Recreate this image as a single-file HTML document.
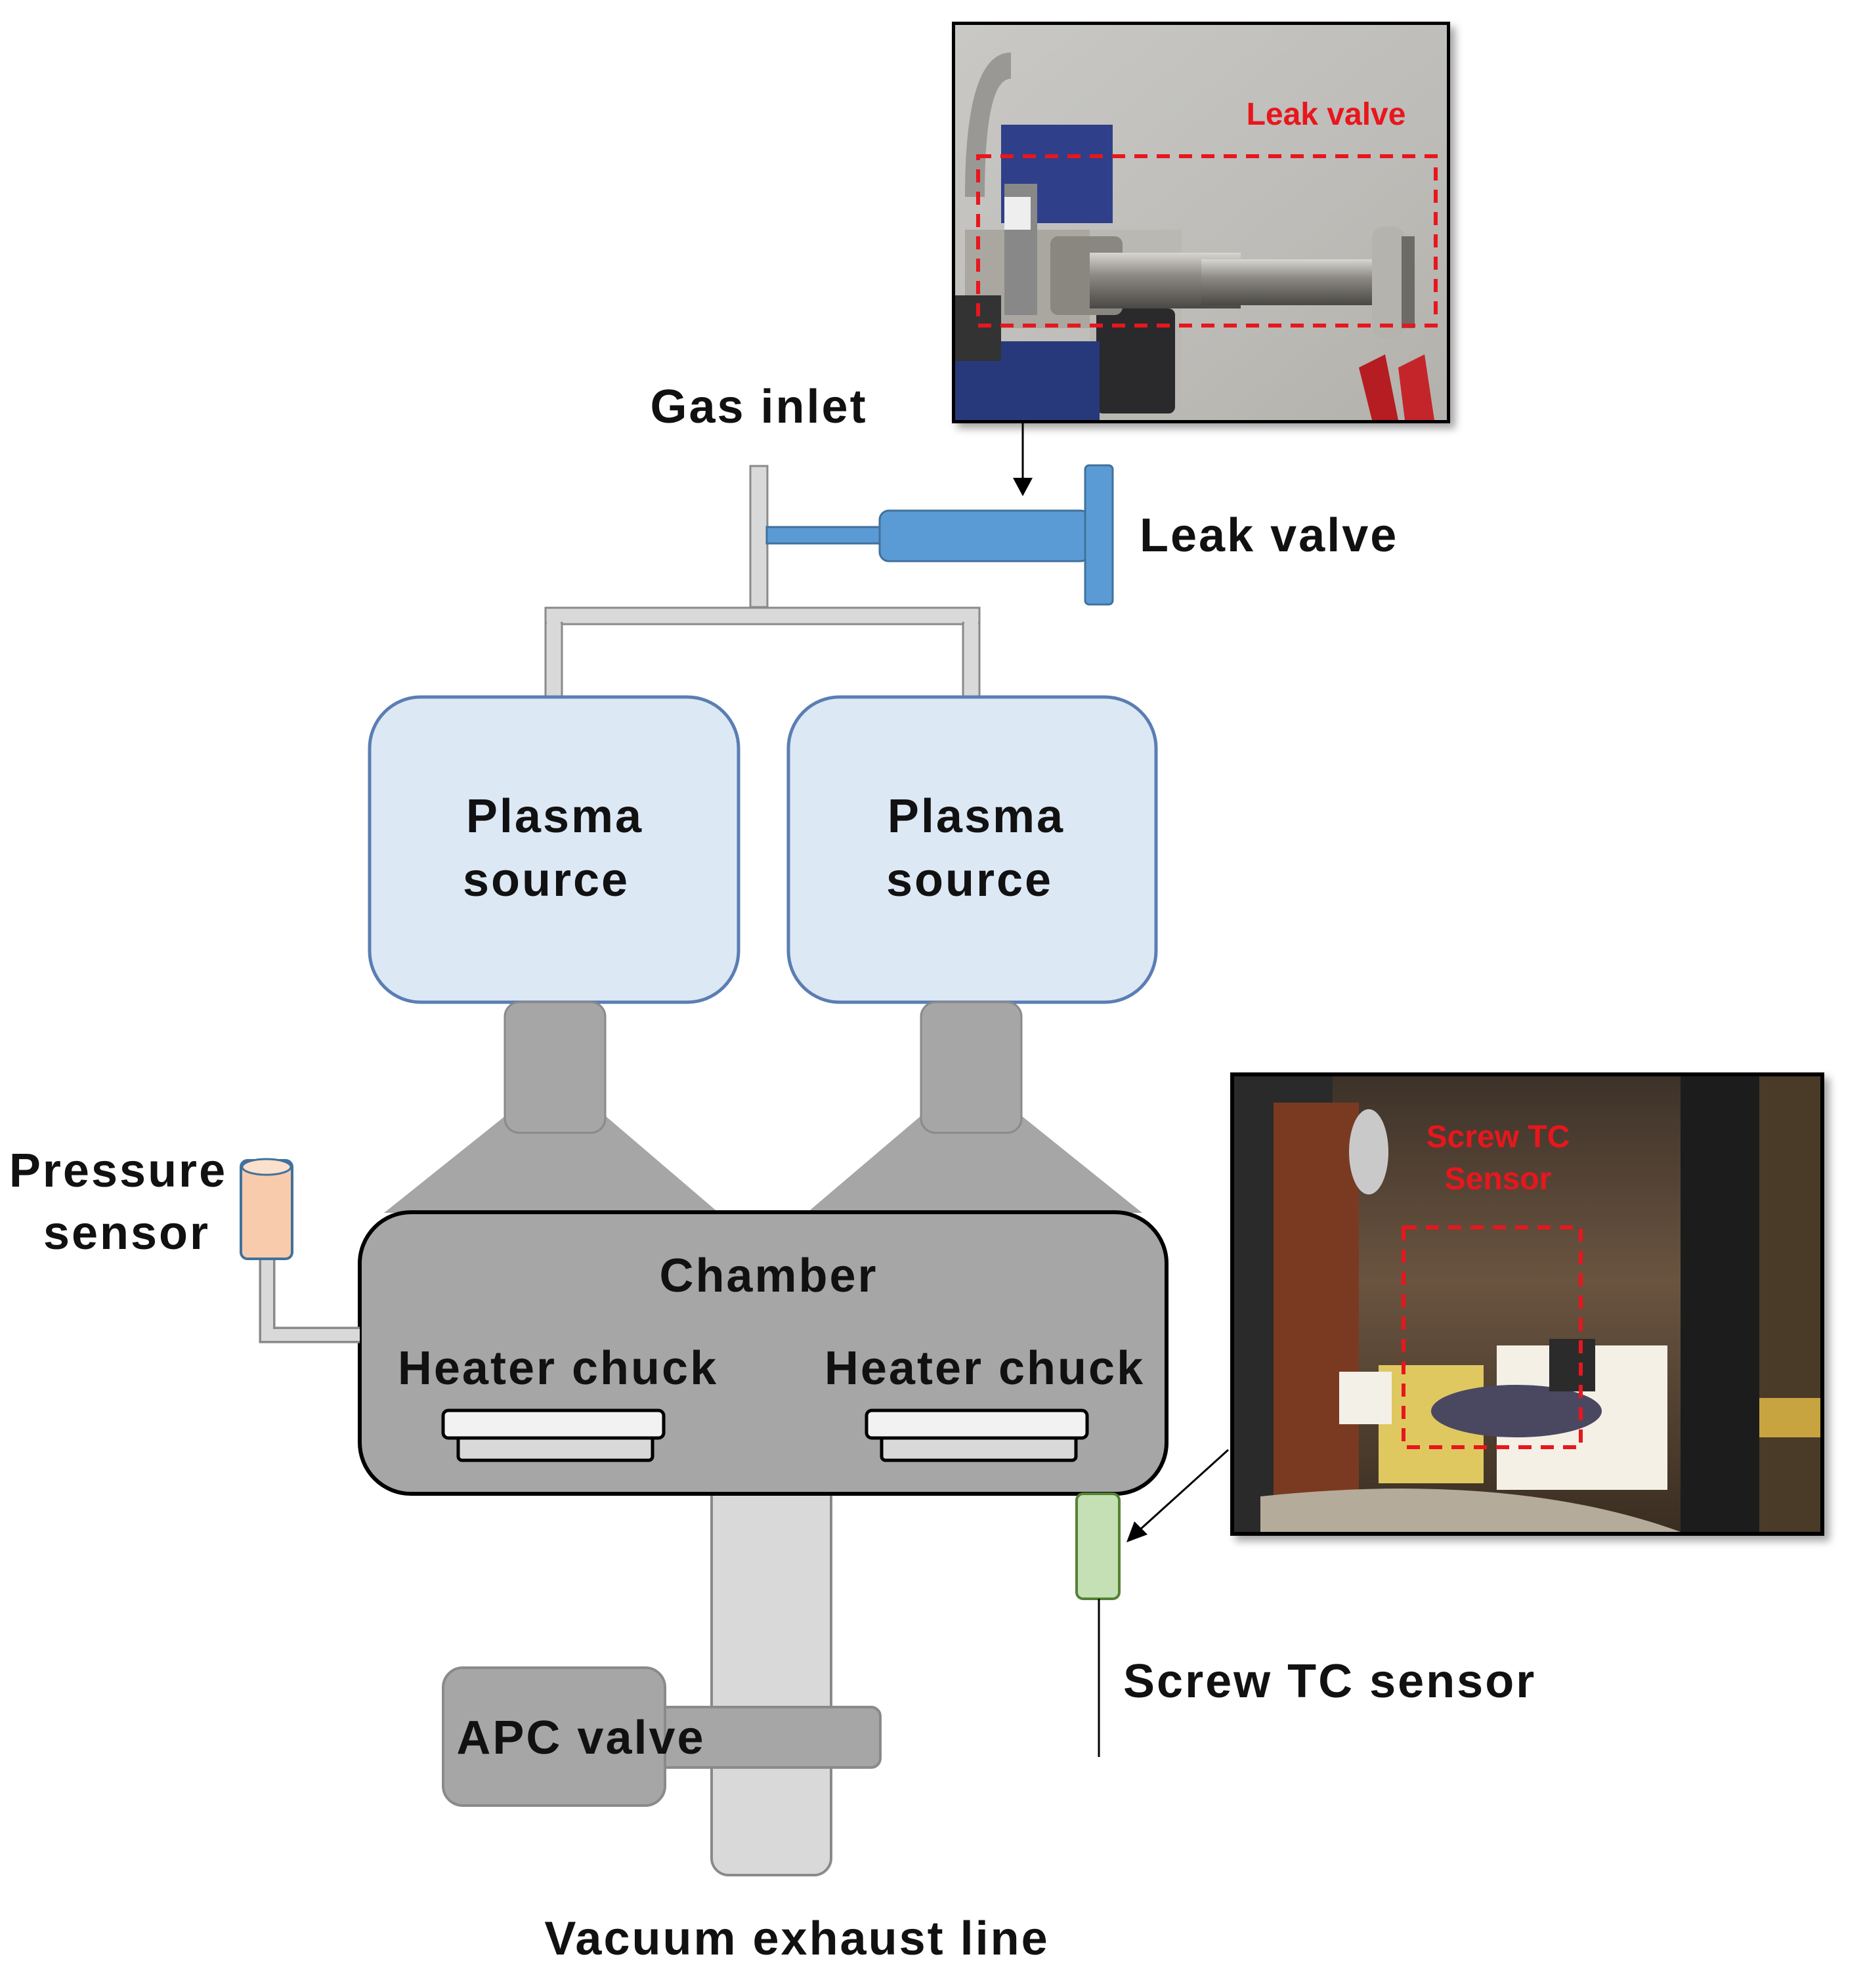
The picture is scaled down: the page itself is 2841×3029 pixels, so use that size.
<!DOCTYPE html>
<html><head><meta charset="utf-8"><style>html,body{margin:0;padding:0;background:#fff}svg{display:block}</style></head>
<body>
<svg width="2841" height="3029" viewBox="0 0 2841 3029" xmlns="http://www.w3.org/2000/svg" font-family="Liberation Sans, sans-serif" font-weight="bold">
<defs>
<linearGradient id="wall" x1="0" y1="0" x2="1" y2="1"><stop offset="0" stop-color="#c9c8c4"/><stop offset="0.6" stop-color="#bdbcb8"/><stop offset="1" stop-color="#b3b1ab"/></linearGradient>
<linearGradient id="metal" x1="0" y1="0" x2="0" y2="1"><stop offset="0" stop-color="#d8d6d0"/><stop offset="0.4" stop-color="#8d8a84"/><stop offset="1" stop-color="#4a4844"/></linearGradient>
<linearGradient id="ph2" x1="0" y1="0" x2="0" y2="1"><stop offset="0" stop-color="#3d3229"/><stop offset="0.45" stop-color="#6a5440"/><stop offset="1" stop-color="#3a2e22"/></linearGradient>
<filter id="sh"><feDropShadow dx="8" dy="8" stdDeviation="6" flood-color="#000" flood-opacity="0.35"/></filter>
</defs>

<!-- Photo 1 -->
<g filter="url(#sh)"><rect x="1450" y="33" width="759" height="612" fill="#000"/></g>
<rect x="1455" y="38" width="749" height="602" fill="url(#wall)"/>
<path d="M1470 300 Q1470 80 1540 80 L1540 120 Q1500 120 1500 300 Z" fill="#9a9894"/>
<rect x="1525" y="190" width="170" height="150" fill="#2f3f8a"/>
<rect x="1470" y="350" width="310" height="150" fill="#a9a7a0"/>
<rect x="1660" y="350" width="140" height="290" fill="#bab8b2"/>
<rect x="1670" y="470" width="120" height="160" rx="10" fill="#2a2a2c"/>
<rect x="1455" y="520" width="220" height="120" fill="#27397a"/>
<rect x="1455" y="450" width="70" height="100" fill="#333"/>
<rect x="1530" y="280" width="50" height="200" fill="#888"/>
<rect x="1530" y="300" width="40" height="50" fill="#eee"/>
<rect x="1600" y="360" width="110" height="120" rx="12" fill="#8a8780"/>
<rect x="1660" y="385" width="230" height="85" fill="url(#metal)"/>
<rect x="1830" y="395" width="270" height="70" fill="url(#metal)"/>
<rect x="2090" y="345" width="50" height="170" rx="18" fill="#b5b3ad"/>
<rect x="2135" y="360" width="20" height="140" fill="#6d6b66"/>
<path d="M2070 560 L2110 540 L2130 640 L2090 640 Z" fill="#b51d22"/>
<path d="M2130 560 L2170 540 L2185 640 L2140 640 Z" fill="#c4252a"/>
<rect x="1490" y="238" width="697" height="258" fill="none" stroke="#e8161d" stroke-width="6" stroke-dasharray="20 14"/>
<text x="2020" y="190" text-anchor="middle" font-size="48" fill="#e8161d">Leak valve</text>

<!-- arrow from photo1 -->
<line x1="1558" y1="645" x2="1558" y2="735" stroke="#000" stroke-width="3"/>
<polygon points="1543,728 1573,728 1558,756" fill="#000"/>

<g letter-spacing="3">
<!-- Gas inlet -->
<text x="1156" y="644" text-anchor="middle" font-size="72" fill="#111">Gas inlet</text>
</g>
<rect x="1143" y="710" width="26" height="215" fill="#d9d9d9" stroke="#8a8a8a" stroke-width="3"/>
<rect x="1168" y="803" width="178" height="25" fill="#5b9bd5" stroke="#41719c" stroke-width="3"/>
<rect x="1340" y="778" width="320" height="77" rx="14" fill="#5b9bd5" stroke="#41719c" stroke-width="3"/>
<rect x="1653" y="709" width="42" height="212" rx="6" fill="#5b9bd5" stroke="#41719c" stroke-width="3"/>
<text x="1736" y="840" font-size="72" fill="#111" letter-spacing="3">Leak valve</text>

<!-- manifold -->
<rect x="831" y="926" width="661" height="25" fill="#d9d9d9" stroke="#8a8a8a" stroke-width="3"/>
<rect x="831" y="949" width="25" height="122" fill="#d9d9d9" stroke="#8a8a8a" stroke-width="3"/>
<rect x="1467" y="949" width="25" height="122" fill="#d9d9d9" stroke="#8a8a8a" stroke-width="3"/>
<rect x="833" y="944" width="21" height="10" fill="#d9d9d9"/>
<rect x="1469" y="944" width="21" height="10" fill="#d9d9d9"/>

<!-- plasma sources -->
<rect x="563" y="1062" width="562" height="465" rx="78" fill="#dde8f5" stroke="#5a7eb3" stroke-width="5"/>
<rect x="1201" y="1062" width="560" height="465" rx="78" fill="#dde8f5" stroke="#5a7eb3" stroke-width="5"/>
<g letter-spacing="3" font-size="72" fill="#111" text-anchor="middle">
<text x="845" y="1268">Plasma</text>
<text x="832" y="1365">source</text>
<text x="1487" y="1268">Plasma</text>
<text x="1477" y="1365">source</text>
</g>

<!-- trapezoids -->
<polygon points="770,1700 922,1700 1095,1848 585,1848" fill="#a6a6a6"/>
<polygon points="1403,1700 1556,1700 1740,1848 1229,1848" fill="#a6a6a6"/>
<rect x="769" y="1527" width="153" height="199" rx="22" fill="#a6a6a6" stroke="#8a8a8a" stroke-width="3"/>
<rect x="1403" y="1527" width="153" height="199" rx="22" fill="#a6a6a6" stroke="#8a8a8a" stroke-width="3"/>

<!-- exhaust line -->
<rect x="1084" y="2240" width="182" height="617" rx="26" fill="#d9d9d9" stroke="#8a8a8a" stroke-width="4"/>

<!-- chamber -->
<rect x="548" y="1847" width="1229" height="429" rx="78" fill="#a6a6a6" stroke="#000" stroke-width="6"/>
<g letter-spacing="3" font-size="72" fill="#111" text-anchor="middle">
<text x="1171" y="1968">Chamber</text>
<text x="850" y="2109">Heater chuck</text>
<text x="1500" y="2109">Heater chuck</text>
</g>
<rect x="698" y="2188" width="296" height="37" rx="6" fill="#d9d9d9" stroke="#000" stroke-width="5"/>
<rect x="675" y="2149" width="336" height="42" rx="8" fill="#f2f2f2" stroke="#000" stroke-width="5"/>
<rect x="1343" y="2188" width="296" height="37" rx="6" fill="#d9d9d9" stroke="#000" stroke-width="5"/>
<rect x="1320" y="2149" width="336" height="42" rx="8" fill="#f2f2f2" stroke="#000" stroke-width="5"/>

<!-- pressure sensor -->
<path d="M407 1915 L407 2034 L548 2034" fill="none" stroke="#8a8a8a" stroke-width="25"/>
<path d="M407 1915 L407 2034 L548 2034" fill="none" stroke="#d9d9d9" stroke-width="18"/>
<rect x="367" y="1768" width="78" height="150" rx="10" fill="#f8cbad" stroke="#41719c" stroke-width="4"/>
<ellipse cx="406" cy="1778" rx="37" ry="12" fill="#fbe0cc" stroke="#41719c" stroke-width="3"/>
<g letter-spacing="3" font-size="72" fill="#111" text-anchor="middle">
<text x="180" y="1808">Pressure</text>
<text x="193" y="1903">sensor</text>
</g>

<!-- APC valve -->
<rect x="1000" y="2601" width="341" height="92" rx="14" fill="#a6a6a6" stroke="#8a8a8a" stroke-width="4"/>
<rect x="675" y="2541" width="338" height="210" rx="30" fill="#a6a6a6" stroke="#8a8a8a" stroke-width="4"/>
<g letter-spacing="3" font-size="72" fill="#111" text-anchor="middle">
<text x="885" y="2672">APC valve</text>
<text x="1214" y="2978">Vacuum exhaust line</text>
</g>

<!-- screw TC sensor -->
<rect x="1640" y="2276" width="65" height="160" rx="10" fill="#c5e0b4" stroke="#548235" stroke-width="4"/>
<line x1="1674" y1="2436" x2="1674" y2="2677" stroke="#000" stroke-width="3"/>
<text x="1711" y="2586" font-size="72" fill="#111" letter-spacing="3">Screw TC sensor</text>
<line x1="1871" y1="2209" x2="1735" y2="2332" stroke="#000" stroke-width="3"/>
<polygon points="1716,2350 1728,2318 1748,2338" fill="#000"/>

<!-- Photo 2 -->
<g filter="url(#sh)"><rect x="1874" y="1634" width="905" height="706" fill="#000"/></g>
<rect x="1880" y="1640" width="893" height="694" fill="url(#ph2)"/>
<rect x="1880" y="1640" width="150" height="694" fill="#2a2a2a"/>
<path d="M1940 1680 L2070 1680 L2070 2334 L1940 2334 Z" fill="#7a3a22"/>
<ellipse cx="2085" cy="1755" rx="30" ry="65" fill="#c9c9c9"/>
<rect x="2280" y="2050" width="260" height="220" fill="#f4f0e6"/>
<rect x="2100" y="2080" width="160" height="180" fill="#e0c860"/>
<rect x="2040" y="2090" width="80" height="80" fill="#f3f0e8"/>
<ellipse cx="2310" cy="2150" rx="130" ry="40" fill="#4a4860"/>
<rect x="2360" y="2040" width="70" height="80" fill="#2b2b2b"/>
<rect x="2560" y="1640" width="120" height="694" fill="#1c1c1c"/>
<rect x="2680" y="1640" width="93" height="694" fill="#4a3a28"/>
<rect x="2680" y="2130" width="93" height="60" fill="#c8a440"/>
<path d="M1920 2280 Q2300 2240 2560 2334 L1920 2334 Z" fill="#b5ab9a"/>
<rect x="2138" y="1870" width="270" height="335" fill="none" stroke="#e8161d" stroke-width="6" stroke-dasharray="20 14"/>
<text x="2282" y="1748" text-anchor="middle" font-size="48" fill="#e8161d">Screw TC</text>
<text x="2282" y="1812" text-anchor="middle" font-size="48" fill="#e8161d">Sensor</text>
</svg>
</body></html>
